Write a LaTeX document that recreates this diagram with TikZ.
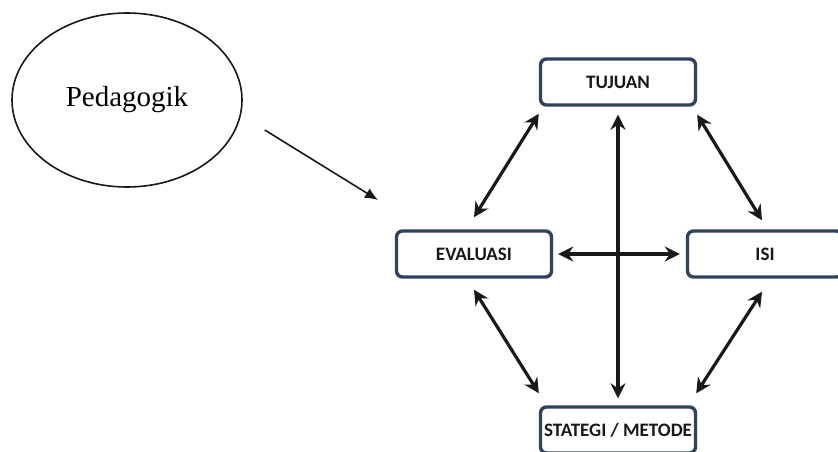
\documentclass[tikz,border=0pt]{standalone}
\usepackage{fontspec}
\setmainfont{Liberation Serif}
\newfontfamily\boxfont{Carlito}
\usepackage{tikz}
\usetikzlibrary{arrows.meta,shapes,positioning}
\usepackage{xcolor}
\definecolor{pdframe}{RGB}{48,66,92}
\definecolor{pdink}{RGB}{25,25,25}
\tikzstyle{arrow} = [line width=3.2pt,{Stealth[length=15pt,width=15pt,inset=5pt]}-{Stealth[length=15pt,width=15pt,inset=5pt]},color=pdink]
\tikzstyle{pointer} = [line width=1.6pt,-{Latex[length=13pt,width=11pt]},color=pdink]
\tikzstyle{aspect} = [rectangle, rounded corners=6pt, minimum width=155pt, minimum height=46pt, text centered, draw=pdframe, fill=white, line width=3.4pt, text=pdink, font=\boxfont\bfseries\fontsize{19}{22}\selectfont]

\begin{document}
\begin{tikzpicture}[x=1pt, y=1pt]
\clip (0,0) rectangle (838,-452);
\fill[white] (0,0) rectangle (838,-452);

% Pedagogik
\node (ped) [ellipse, draw=pdink, line width=1.6pt, minimum width=230pt, minimum height=174pt, font=\fontsize{29}{34}\selectfont] at (127,-100) {Pedagogik};
\coordinate (pedtip) at (378,-200);
\draw[pointer] ([xshift=22pt,yshift=-30pt]ped.east) -- (pedtip);

% Components
\node (tujuan) [aspect] at (618,-82) {TUJUAN};
\node (stategi) [aspect, below of=tujuan, node distance=348pt] {STATEGI / METODE};
\node (evaluasi) [aspect, below of=tujuan, node distance=172pt, xshift=-144pt] {EVALUASI};
\node (isi) [aspect, right of=evaluasi, node distance=291pt] {ISI};

\draw[arrow] ([yshift=-7pt]tujuan.south west) -- ([yshift=12pt]evaluasi.north);
\draw[arrow] ([yshift=-8pt]tujuan.south east) -- ([xshift=-3pt,yshift=9pt]isi.north);
\draw[arrow] ([yshift=-8pt]tujuan.south) -- ([yshift=7pt]stategi.north);
\draw[arrow] ([xshift=5pt]evaluasi.east) -- ([xshift=-6pt]isi.west);
\draw[arrow] ([yshift=-11pt]evaluasi.south) -- ([yshift=12pt]stategi.north west);
\draw[arrow] ([xshift=-3pt,yshift=-13pt]isi.south) -- ([xshift=-1pt,yshift=12pt]stategi.north east);
\end{tikzpicture}
\end{document}
